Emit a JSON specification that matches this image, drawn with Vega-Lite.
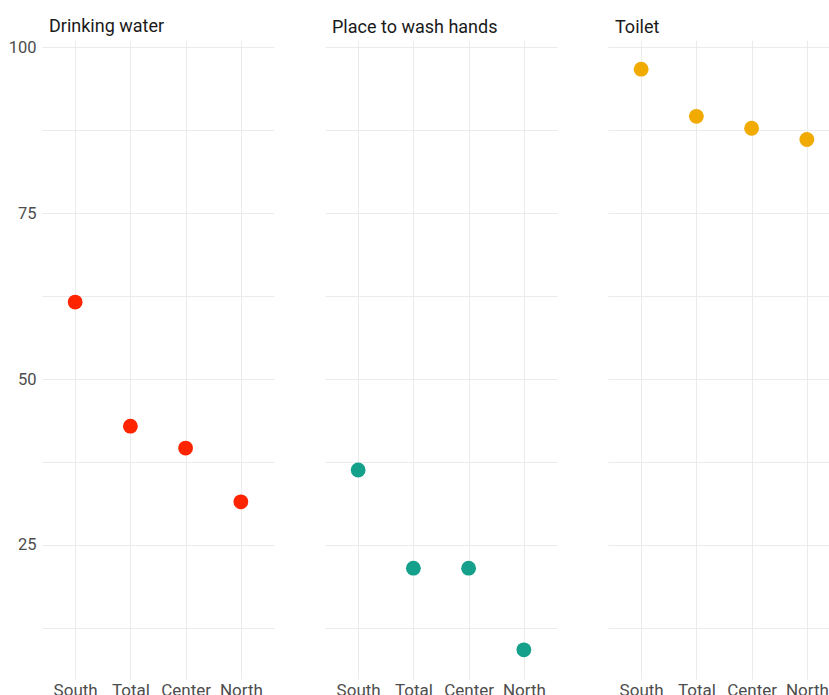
{
  "$schema": "https://vega.github.io/schema/vega-lite/v6.json",
  "padding": {"left": 8, "top": 18, "right": 0, "bottom": 0},
  "background": "white",
  "data": {
    "values": [
      {"panel": "Drinking water", "region": "South", "value": 61.6},
      {"panel": "Drinking water", "region": "Total", "value": 42.9},
      {"panel": "Drinking water", "region": "Center", "value": 39.6},
      {"panel": "Drinking water", "region": "North", "value": 31.5},
      {"panel": "Place to wash hands", "region": "South", "value": 36.3},
      {"panel": "Place to wash hands", "region": "Total", "value": 21.5},
      {"panel": "Place to wash hands", "region": "Center", "value": 21.5},
      {"panel": "Place to wash hands", "region": "North", "value": 9.2},
      {"panel": "Toilet", "region": "South", "value": 96.7},
      {"panel": "Toilet", "region": "Total", "value": 89.6},
      {"panel": "Toilet", "region": "Center", "value": 87.8},
      {"panel": "Toilet", "region": "North", "value": 86.1}
    ]
  },
  "spacing": 51,
  "hconcat": [
    {
      "title": {"text": "Drinking water"},
      "width": 232,
      "height": 639,
      "transform": [{"filter": "datum.panel === 'Drinking water'"}],
      "mark": {"type": "circle", "size": 220, "opacity": 1, "color": "#ff2400"},
      "encoding": {
        "x": {
          "field": "region",
          "type": "nominal",
          "sort": ["South", "Total", "Center", "North"],
          "scale": {"type": "point", "padding": 0.6},
          "axis": {"title": null}
        },
        "y": {
          "field": "value",
          "type": "quantitative",
          "scale": {"domain": [4.8, 101.1], "nice": false, "zero": false},
          "axis": {
            "title": null,
            "values": [12.5, 25, 37.5, 50, 62.5, 75, 87.5, 100],
            "labelExpr": "datum.value % 25 == 0 ? datum.label : ''"
          }
        }
      }
    },
    {
      "title": {"text": "Place to wash hands"},
      "width": 232,
      "height": 639,
      "transform": [{"filter": "datum.panel === 'Place to wash hands'"}],
      "mark": {"type": "circle", "size": 220, "opacity": 1, "color": "#14a08a"},
      "encoding": {
        "x": {
          "field": "region",
          "type": "nominal",
          "sort": ["South", "Total", "Center", "North"],
          "scale": {"type": "point", "padding": 0.6},
          "axis": {"title": null}
        },
        "y": {
          "field": "value",
          "type": "quantitative",
          "scale": {"domain": [4.8, 101.1], "nice": false, "zero": false},
          "axis": {
            "title": null,
            "labels": false,
            "values": [12.5, 25, 37.5, 50, 62.5, 75, 87.5, 100]
          }
        }
      }
    },
    {
      "title": {"text": "Toilet"},
      "width": 232,
      "height": 639,
      "transform": [{"filter": "datum.panel === 'Toilet'"}],
      "mark": {"type": "circle", "size": 220, "opacity": 1, "color": "#f0aa00"},
      "encoding": {
        "x": {
          "field": "region",
          "type": "nominal",
          "sort": ["South", "Total", "Center", "North"],
          "scale": {"type": "point", "padding": 0.6},
          "axis": {"title": null}
        },
        "y": {
          "field": "value",
          "type": "quantitative",
          "scale": {"domain": [4.8, 101.1], "nice": false, "zero": false},
          "axis": {
            "title": null,
            "labels": false,
            "values": [12.5, 25, 37.5, 50, 62.5, 75, 87.5, 100]
          }
        }
      }
    }
  ],
  "resolve": {"scale": {"x": "independent", "y": "independent"}},
  "config": {
    "view": {"stroke": null},
    "font": "Roboto",
    "title": {
      "anchor": "start",
      "frame": "group",
      "dx": 7,
      "font": "Roboto",
      "fontSize": 18,
      "fontWeight": "normal",
      "color": "#1a1a1a",
      "offset": 3
    },
    "axis": {
      "labelFont": "Roboto",
      "labelColor": "#4d4d4d",
      "ticks": false,
      "domain": false,
      "grid": true,
      "gridColor": "#ebebeb",
      "gridWidth": 1
    },
    "axisX": {
      "labelAngle": 0,
      "labelFontSize": 17,
      "labelPadding": 3
    },
    "axisY": {
      "labelFontSize": 16.5,
      "labelPadding": 6
    }
  }
}
